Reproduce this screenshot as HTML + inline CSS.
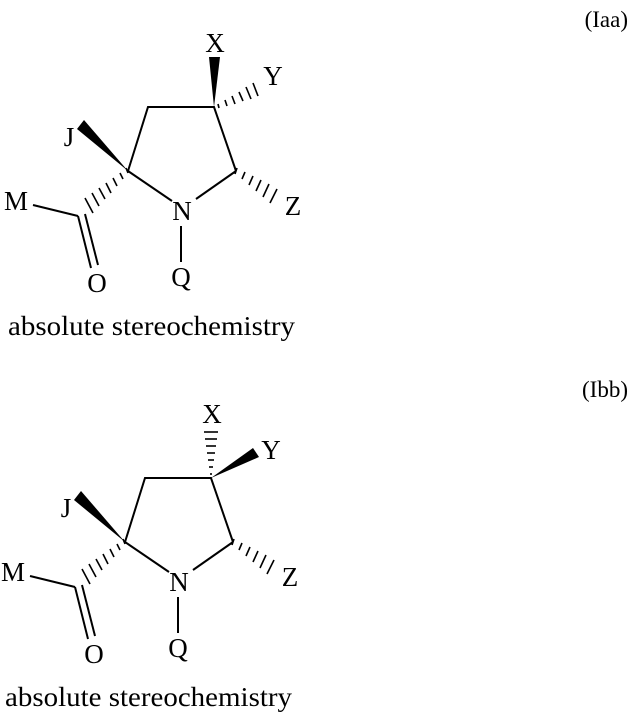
<!DOCTYPE html>
<html><head><meta charset="utf-8"><style>
html,body{margin:0;padding:0;background:#fff;}
svg{display:block;}
text{font-family:"Liberation Serif",serif;font-size:27px;fill:#000;}
.c{text-anchor:middle;}
.r{text-anchor:end;font-size:23px;}
</style></head><body>
<svg width="630" height="714" viewBox="0 0 630 714">
<defs>
<g id="core" stroke="#000" stroke-width="2" fill="none">
  <polyline points="128,171 148,107 214,107 236,171"/>
  <line x1="128" y1="171" x2="172" y2="201"/>
  <line x1="236" y1="171" x2="196" y2="199"/>
  <line x1="181" y1="226" x2="181" y2="262"/>
  <polygon points="128,171 77,129 84,120" fill="#000" stroke="none"/>
  <g stroke-width="1.6">
    <line x1="126" y1="168" x2="128" y2="173"/>
    <line x1="120" y1="173" x2="123" y2="179"/>
    <line x1="113" y1="178" x2="117" y2="186"/>
    <line x1="106" y1="183" x2="111" y2="193"/>
    <line x1="99" y1="188" x2="105" y2="199"/>
    <line x1="92" y1="193" x2="99" y2="206"/>
    <line x1="85" y1="198" x2="93" y2="213"/>
  </g>
  <g stroke-width="1.6">
    <line x1="237" y1="168" x2="235" y2="174"/>
    <line x1="245" y1="172" x2="242" y2="179"/>
    <line x1="253" y1="176" x2="249" y2="185"/>
    <line x1="261" y1="180" x2="256" y2="191"/>
    <line x1="269" y1="184" x2="263" y2="197"/>
    <line x1="277" y1="189" x2="270" y2="203"/>
  </g>
  <line x1="33" y1="205" x2="78" y2="216"/>
  <line x1="78" y1="216" x2="91" y2="268"/>
  <line x1="85" y1="214" x2="98" y2="265"/>
</g>
<g id="labels">
  <text class="c" x="69" y="146">J</text>
  <text class="c" x="16" y="210">M</text>
  <text class="c" x="293" y="215">Z</text>
  <text class="c" x="182" y="220">N</text>
  <text class="c" x="181" y="286">Q</text>
  <text class="c" x="97" y="292">O</text>
  <text x="8" y="335" textLength="287" lengthAdjust="spacingAndGlyphs">absolute stereochemistry</text>
</g>
</defs>

<text class="r" x="628" y="27">(Iaa)</text>
<use href="#core"/>
<use href="#labels"/>
<g stroke="#000" fill="none">
  <polygon points="214,107 209,57 220,57" fill="#000" stroke="none"/>
  <g stroke-width="1.6">
    <line x1="218" y1="104" x2="219" y2="108"/>
    <line x1="225" y1="100" x2="227" y2="106"/>
    <line x1="232" y1="96" x2="235" y2="104"/>
    <line x1="239" y1="92" x2="243" y2="101"/>
    <line x1="246" y1="87" x2="251" y2="99"/>
    <line x1="253" y1="83" x2="258" y2="96"/>
  </g>
</g>
<text class="c" x="215" y="52">X</text>
<text class="c" x="273" y="85">Y</text>

<text class="r" x="628" y="397">(Ibb)</text>
<g transform="translate(-3,371)">
<use href="#core"/>
<use href="#labels"/>
<g stroke="#000" fill="none">
  <g stroke-width="1.6">
    <line x1="213" y1="103" x2="215" y2="103"/>
    <line x1="212" y1="96" x2="216" y2="96"/>
    <line x1="211" y1="89" x2="217" y2="89"/>
    <line x1="210" y1="82" x2="218" y2="82"/>
    <line x1="209" y1="75" x2="219" y2="75"/>
    <line x1="208" y1="68" x2="220" y2="68"/>
    <line x1="207" y1="61" x2="221" y2="61"/>
  </g>
  <polygon points="214,107 256,77 262,86" fill="#000" stroke="none"/>
</g>
<text class="c" x="215" y="52">X</text>
<text class="c" x="274" y="88">Y</text>
</g>
</svg>
</body></html>
